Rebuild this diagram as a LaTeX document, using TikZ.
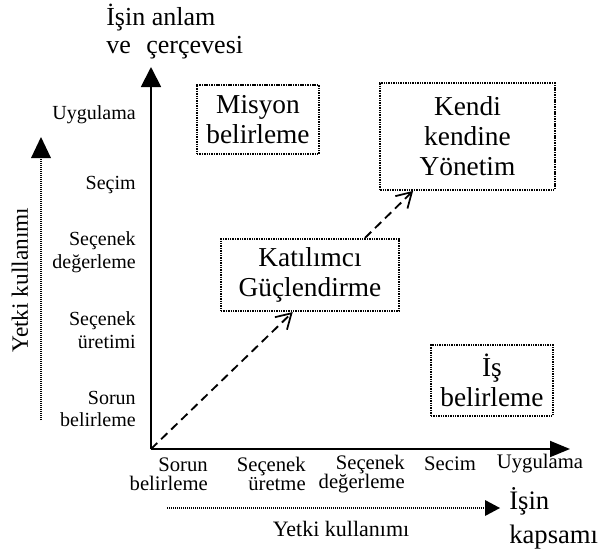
\documentclass[tikz,border=0pt]{standalone}
\usepackage{fontspec}
\setmainfont{Liberation Serif}
\usetikzlibrary{arrows.meta}

\tikzset{
  axis/.style={line width=1.4pt},
  boxed/.style={draw, line width=1.6pt, dash pattern=on 1.1pt off 0.7pt,
    align=center, inner sep=0pt, font=\fontsize{20.5}{22.5}\selectfont},
  flow/.style={line width=1.4pt, dash pattern=on 6.5pt off 4pt,
    -{Straight Barb[length=11pt,width=13pt,line width=1.3pt]}},
  guide/.style={line width=1.2pt, dash pattern=on 0.9pt off 0.6pt},
  ylab/.style={anchor=east, align=right, inner sep=0pt, font=\fontsize{15}{17}\selectfont},
  xlab/.style={align=right, inner sep=0pt, font=\fontsize{15.5}{14.5}\selectfont},
  title/.style={anchor=base west, inner sep=0pt, font=\fontsize{19.5}{21}\selectfont},
}

\begin{document}
\begin{tikzpicture}[x=0.75pt, y=-0.75pt]
\useasboundingbox (0,0) rectangle (608,550);

% axes
\coordinate (O) at (151,449);
\coordinate (ytip) at (151,67);
\coordinate (xtip) at (570,449);
\draw[axis, -{Triangle[length=15pt,width=15pt]}] (O) -- (ytip);
\draw[axis, -{Triangle[length=15pt,width=12pt]}] (O) -- (xtip);

% axis titles
\node[title] (ta1) at (106,25) {İşin anlam};
\node[title] (ta2) at (106,53) {ve\hspace{0.6em}çerçevesi};
\node[title, font=\fontsize{20}{21}\selectfont] (tb1) at (509,509) {İşin};
\node[title, font=\fontsize{20}{21}\selectfont] (tb2) at (509,543) {kapsamı};

% vertical scale
\node[ylab] (v5) at (136,115) {Uygulama};
\node[ylab] (v4) at (136,185) {Seçim};
\node[ylab] (v3) at (136,252) {Seçenek\\değerleme};
\node[ylab] (v2) at (136,330) {Seçenek\\üretimi};
\node[ylab] (v1) at (136,409) {Sorun\\belirleme};

% horizontal scale
\node[xlab, anchor=east] (h1) at (208,474) {Sorun\\belirleme};
\node[xlab, anchor=east] (h2) at (306,474) {Seçenek\\üretme};
\node[xlab, anchor=east] (h3) at (405,474) {Seçenek\\değerleme};
\node[xlab] (h4) at (450,464) {Secim};
\node[xlab] (h5) at (540,464) {Uygulama};

% authority-use guides
\coordinate (g1a) at (41,420);
\coordinate (g1b) at (41,137);
\draw[guide] (g1a) -- (41,157);
\fill (g1b) -- (31,158) -- (51,158) -- cycle;
\node[rotate=90, font=\fontsize{17.5}{18}\selectfont] (gl1) at (20,280) {Yetki kullanımı};

\coordinate (g2a) at (167,508);
\coordinate (g2b) at (500,508);
\draw[guide] (g2a) -- (485,508);
\fill (g2b) -- (485,500) -- (485,516) -- cycle;
\node[font=\fontsize{16.5}{18}\selectfont] (gl2) at (341,529) {Yetki kullanımı};

% regions
\node[boxed, minimum width=91.5pt, minimum height=52pt] (misyon) at (258,119.5) {Misyon\\belirleme};
\node[boxed, minimum width=131pt, minimum height=80pt] (kendi) at (467.5,136.5) {Kendi\\kendine\\Yönetim};
\node[boxed, minimum width=133.5pt, minimum height=54pt] (katilim) at (310,275) {Katılımcı\\Güçlendirme};
\node[boxed, minimum width=91.5pt, minimum height=53pt] (isb) at (492,380.5) {İş\\belirleme};

% empowerment path
\draw[flow] (O) -- (katilim.245);
\draw[flow] (katilim.34) -- (kendi.225);
\end{tikzpicture}
\end{document}
